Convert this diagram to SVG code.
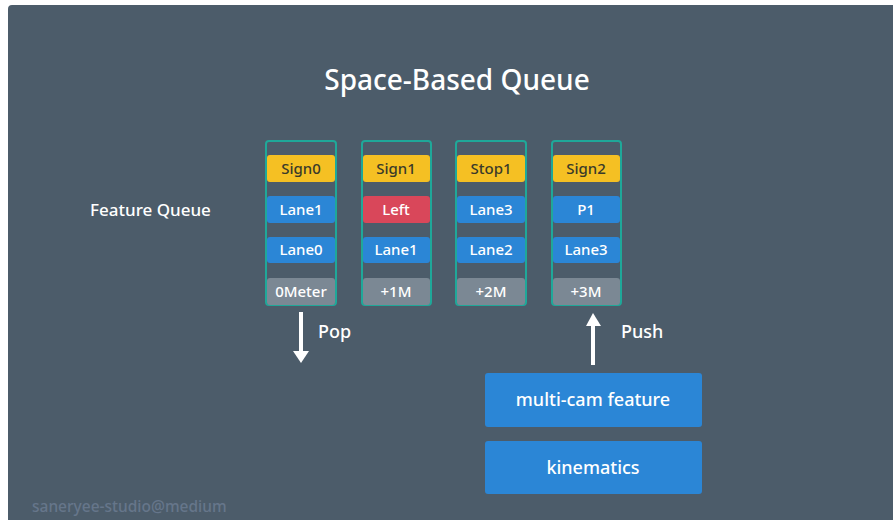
<svg xmlns="http://www.w3.org/2000/svg" width="893" height="520" viewBox="0 0 893 520">
<style>
text{font-family:"Noto Sans","Liberation Sans",sans-serif;font-weight:500;}
.col{fill:none;stroke:#1fa899;stroke-width:2;}
.y{fill:#f5c023;}
.b{fill:#2b86d6;}
.r{fill:#d9475a;}
.g{fill:#7b8894;}
.t{font-size:15px;text-anchor:middle;fill:#ffffff;}
.td{font-size:15px;text-anchor:middle;fill:#3a3a2a;}
.lbl{font-size:18px;fill:#ffffff;}
.big{font-size:18px;text-anchor:middle;fill:#ffffff;}
.box{fill:#2b86d6;}
</style>
<rect x="0" y="0" width="893" height="520" fill="#ffffff"/>
<rect x="8" y="5" width="890" height="520" rx="4" fill="#4c5c6a"/>
<text x="457" y="90" font-size="28" text-anchor="middle" fill="#ffffff">Space-Based Queue</text>
<text x="90" y="216" class="lbl" style="font-size:17px">Feature Queue</text>

<g id="col0">
<rect class="col" x="266" y="141" width="70" height="164" rx="3"/>
<rect class="y" x="267" y="155" width="68" height="27" rx="3"/><text class="td" x="301" y="174">Sign0</text>
<rect class="b" x="267" y="196" width="68" height="27" rx="3"/><text class="t" x="301" y="215">Lane1</text>
<rect class="b" x="267" y="237" width="68" height="26" rx="3"/><text class="t" x="301" y="255">Lane0</text>
<rect class="g" x="267" y="278" width="68" height="27" rx="3"/><text class="t" x="301" y="297">0Meter</text>
</g>
<g id="col1">
<rect class="col" x="362" y="141" width="69" height="164" rx="3"/>
<rect class="y" x="363" y="155" width="67" height="27" rx="3"/><text class="td" x="396" y="174">Sign1</text>
<rect class="r" x="363" y="196" width="67" height="27" rx="3"/><text class="t" x="396" y="215">Left</text>
<rect class="b" x="363" y="237" width="67" height="26" rx="3"/><text class="t" x="396" y="255">Lane1</text>
<rect class="g" x="363" y="278" width="67" height="27" rx="3"/><text class="t" x="396" y="297">+1M</text>
</g>
<g id="col2">
<rect class="col" x="456" y="141" width="70" height="164" rx="3"/>
<rect class="y" x="457" y="155" width="68" height="27" rx="3"/><text class="td" x="491" y="174">Stop1</text>
<rect class="b" x="457" y="196" width="68" height="27" rx="3"/><text class="t" x="491" y="215">Lane3</text>
<rect class="b" x="457" y="237" width="68" height="26" rx="3"/><text class="t" x="491" y="255">Lane2</text>
<rect class="g" x="457" y="278" width="68" height="27" rx="3"/><text class="t" x="491" y="297">+2M</text>
</g>
<g id="col3">
<rect class="col" x="552" y="141" width="69" height="164" rx="3"/>
<rect class="y" x="553" y="155" width="67" height="27" rx="3"/><text class="td" x="586" y="174">Sign2</text>
<rect class="b" x="553" y="196" width="67" height="27" rx="3"/><text class="t" x="586" y="215">P1</text>
<rect class="b" x="553" y="237" width="67" height="26" rx="3"/><text class="t" x="586" y="255">Lane3</text>
<rect class="g" x="553" y="278" width="67" height="27" rx="3"/><text class="t" x="586" y="297">+3M</text>
</g>

<g id="multicam">
<rect class="box" x="485" y="373" width="217" height="54" rx="3"/>
<text class="big" x="593" y="406">multi-cam feature</text>
</g>
<g id="kinematics">
<rect class="box" x="485" y="441" width="217" height="53" rx="3"/>
<text class="big" x="593" y="474">kinematics</text>
</g>

<g id="connectors">
<line x1="301" y1="312" x2="301" y2="352" stroke="#ffffff" stroke-width="4"/>
<path d="M293,351 L309,351 L301,363 z" fill="#ffffff"/>
<text x="318" y="338" class="lbl">Pop</text>
<line x1="593" y1="365" x2="593" y2="325" stroke="#ffffff" stroke-width="4"/>
<path d="M586,326 L601,326 L593,313 z" fill="#ffffff"/>
<text x="621" y="338" class="lbl">Push</text>
</g>
<text x="32" y="512" font-size="15.5" fill="#66768a">saneryee-studio@medium</text>
</svg>
